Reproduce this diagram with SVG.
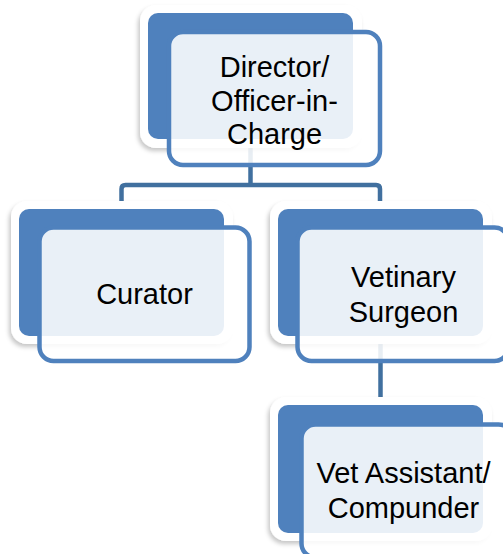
<svg xmlns="http://www.w3.org/2000/svg" width="503" height="554" viewBox="0 0 503 554">
<defs>
<filter id="sh" x="-10%" y="-10%" width="125%" height="130%">
<feDropShadow dx="-2" dy="3" stdDeviation="2" flood-color="#000" flood-opacity="0.22"/>
</filter>
<style>
.halo{fill:#fff;filter:url(#sh)}
.back{fill:#4F81BD}
.front{fill:#fff;fill-opacity:0.88;stroke:#4F81BD;stroke-width:4.5}
.conn{fill:none;stroke:#41709F;stroke-width:4.5;stroke-linejoin:round}
.lbl{font-family:"Liberation Sans",Arial,sans-serif;font-size:29px;fill:#000;text-anchor:middle}
</style>
</defs>
<rect width="503" height="554" fill="#fff"/>
<g id="connectors">
<path class="conn" d="M250.5 139 V185"/>
<path class="conn" d="M121.5 209 V189 Q121.5 185 125.5 185 H376 Q380 185 380 189 V209"/>
<path class="conn" d="M380.5 336 V405"/>
</g>
<g id="node-director">
<rect class="halo" x="140" y="5" width="222" height="143" rx="16"/>
<rect class="back" x="148" y="13" width="205" height="126" rx="10"/>
<rect class="front" x="169" y="32" width="211" height="133" rx="14"/>
<text class="lbl" x="274.5" y="77">Director/</text>
<text class="lbl" x="274.5" y="110.5">Officer-in-</text>
<text class="lbl" x="274.5" y="143.5">Charge</text>
</g>
<g id="node-curator">
<rect class="halo" x="11" y="201" width="222" height="143" rx="16"/>
<rect class="back" x="19" y="209" width="205" height="127" rx="10"/>
<rect class="front" x="39.5" y="227.5" width="210" height="133.5" rx="14"/>
<text class="lbl" x="144.5" y="304">Curator</text>
</g>
<g id="node-vetinary">
<rect class="halo" x="270" y="201" width="222" height="143" rx="16"/>
<rect class="back" x="278" y="209" width="205" height="127" rx="10"/>
<rect class="front" x="297.5" y="227.5" width="211" height="133.5" rx="14"/>
<text class="lbl" x="403.5" y="287">Vetinary</text>
<text class="lbl" x="403.5" y="322">Surgeon</text>
</g>
<g id="node-assistant">
<rect class="halo" x="270" y="397" width="222" height="144" rx="16"/>
<rect class="back" x="278" y="405" width="205" height="128" rx="10"/>
<rect class="front" x="301.5" y="424.5" width="211" height="133" rx="14"/>
<text class="lbl" x="403.5" y="483">Vet Assistant/</text>
<text class="lbl" x="403.5" y="518">Compunder</text>
</g>
</svg>
